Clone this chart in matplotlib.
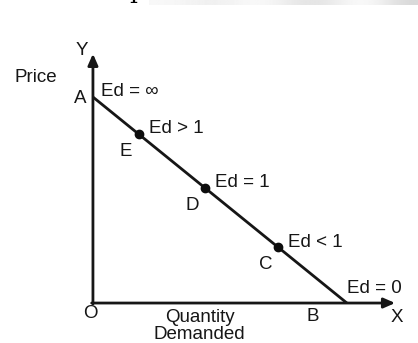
import numpy as np
import matplotlib.pyplot as plt
from matplotlib import rcParams

rcParams['font.family'] = ['Liberation Sans', 'DejaVu Sans']
rcParams['font.size'] = 13.5

# demand line from A (price axis) to B (quantity axis)
a_price = 10.0
b_qty = 10.0
# points on the demand curve (quantity)
pt_names = ['E', 'D', 'C']
pt_qty = [1.8, 4.4, 7.3]
# elasticity labels
ed_labels = ['Ed > 1', 'Ed = 1', 'Ed < 1']
y_top = 12.1
x_right = 11.9

fig = plt.figure(figsize=(4.18, 3.43), dpi=100)
ax = fig.add_axes([0, 0, 1, 1])
ax.set_xlim(-3.66, 12.80)
ax.set_ylim(-1.94, 14.71)
ax.axis('off')

# scanned page edge at the top
grad = np.linspace(0, 1, 300)
band = 0.97 - 0.12 * np.sin(grad * 8) ** 2 * grad
ax.imshow(np.tile(band, (2, 1)), cmap='gray', vmin=0, vmax=1, aspect='auto',
          extent=(2.2, 12.80, 14.45, 14.71), zorder=0)
fig.text(0.31, 0.99, 'p', family='DejaVu Serif', fontsize=18, va='bottom')

ink = '#161616'

# axes with arrows
ax.annotate('', xy=(0, y_top), xytext=(0, -0.05),
            arrowprops=dict(arrowstyle='-|>,head_length=0.5,head_width=0.22',
                            lw=2, color=ink, shrinkA=0, shrinkB=0))
ax.annotate('', xy=(x_right, 0), xytext=(-0.05, 0),
            arrowprops=dict(arrowstyle='-|>,head_length=0.5,head_width=0.22',
                            lw=2, color=ink, shrinkA=0, shrinkB=0))

# demand line
q = np.array([0, b_qty])
p = a_price - a_price / b_qty * q
ax.plot(q, p, color=ink, lw=2, solid_capstyle='butt')

pt_price = [a_price - a_price / b_qty * x for x in pt_qty]
ax.plot(pt_qty, pt_price, 'o', color='#0d0d0d', ms=6)

for x, y, name, lab in zip(pt_qty, pt_price, pt_names, ed_labels):
    ax.text(x + 0.4, y + 0.25, lab, ha='left', va='center', color=ink)
    ax.text(x - 0.5, y - 0.85, name, ha='center', va='center', color=ink)

ax.text(-0.5, a_price - 0.05, 'A', ha='center', va='center', color=ink)
ax.text(0.3, a_price + 0.25, 'Ed = \u221e', ha='left', va='center', color=ink)
ax.text(b_qty, 0.7, 'Ed = 0', ha='left', va='center', color=ink)
ax.text(b_qty - 1.35, -0.65, 'B', ha='center', va='center', color=ink)
ax.text(x_right + 0.05, -0.7, 'X', ha='center', va='center', color=ink)
ax.text(-0.1, -0.5, 'O', ha='center', va='center', color=ink)
ax.text(-0.45, y_top + 0.15, 'Y', ha='center', va='center', color=ink)
ax.text(-2.25, 10.95, 'Price', ha='center', va='center', color=ink)
ax.text(4.2, -1.1, 'Quantity\nDemanded', ha='center', va='center',
        color=ink, linespacing=1.0)

fig.savefig('out.png', dpi=100)
